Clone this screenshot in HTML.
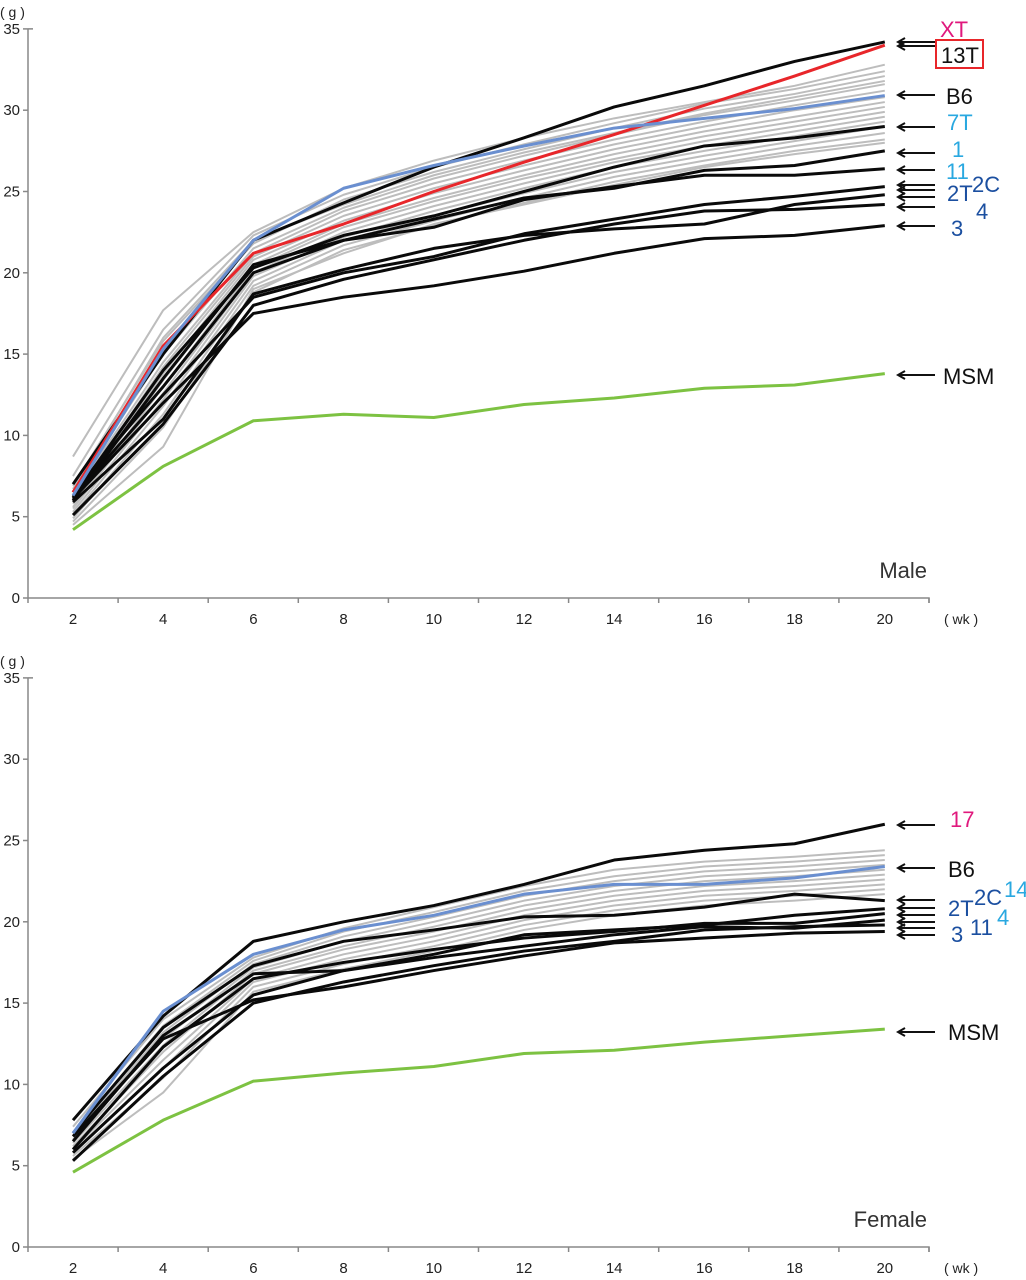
<!DOCTYPE html>
<html><head><meta charset="utf-8"><style>
html,body{margin:0;padding:0;background:#fff;}
svg{display:block;}
text{font-family:"Liberation Sans",sans-serif;}
.lab{font-family:"Liberation Sans Narrow","Liberation Sans",sans-serif;font-size:22px;}
</style></head><body>
<svg id="c" width="1026" height="1280" viewBox="0 0 1026 1280" xmlns="http://www.w3.org/2000/svg"></svg>
<script>
const weeks=[2,4,6,8,10,12,14,16,18,20];
const yTicks=[0,5,10,15,20,25,30,35];
// Male series
const maleGray=[
[8.7,17.7,22.5,25.2,26.9,28.3,29.5,30.5,31.5,32.8],
[7.5,16.5,22.3,24.8,26.5,27.9,29.2,30.4,31.3,32.4],
[6.9,15.8,21.8,24.5,26.2,27.6,28.9,30.1,31.0,32.1],
[6.5,15.0,21.5,24.0,25.8,27.2,28.5,29.7,30.6,31.6],
[6.3,14.5,21.2,23.8,25.5,26.9,28.2,29.3,30.3,31.2],
[6.1,14.2,21.0,23.5,25.2,26.6,27.9,29.0,30.0,30.8],
[6.0,13.8,20.8,23.2,24.9,26.3,27.6,28.7,29.6,30.5],
[5.8,13.4,20.5,23.0,24.6,26.0,27.3,28.4,29.3,30.2],
[5.6,13.0,20.3,22.8,24.4,25.8,27.0,28.1,29.0,29.9],
[5.5,12.6,20.0,22.5,24.1,25.5,26.8,27.8,28.7,29.6],
[5.3,12.2,19.8,22.2,23.8,25.2,26.5,27.5,28.4,29.3],
[5.1,11.8,19.5,22.0,23.5,24.9,26.2,27.2,28.1,29.0],
[4.9,11.3,19.2,21.7,23.2,24.6,25.9,26.9,27.8,28.6],
[4.7,10.5,18.8,21.4,22.9,24.3,25.6,26.6,27.5,28.2],
[4.5,9.3,19.0,21.2,23.0,24.2,25.4,26.5,27.3,28.0],
[6.7,16.0,22.0,24.2,26.0,27.4,28.6,29.8,30.8,31.8]];
const maleBlack=[
[7.0,15.0,22.0,24.3,26.5,28.3,30.2,31.5,33.0,34.2],
[6.2,14.0,20.3,22.3,23.5,25.0,26.5,27.8,28.3,29.0],
[6.0,13.5,20.5,22.0,23.3,24.6,25.2,26.3,26.6,27.5],
[6.5,13.0,20.0,22.0,22.8,24.5,25.3,26.0,26.0,26.4],
[6.2,12.5,18.5,20.0,21.0,22.4,23.3,24.2,24.7,25.3],
[5.9,11.0,18.7,20.2,21.5,22.3,22.7,23.0,24.2,24.8],
[5.1,10.7,18.0,19.6,20.8,22.0,23.0,23.8,23.9,24.2],
[6.1,12.0,17.5,18.5,19.2,20.1,21.2,22.1,22.3,22.9]];
const maleRed=[6.5,15.5,21.2,23.0,25.0,26.8,28.5,30.3,32.1,34.0];
const maleBlue=[6.3,15.3,22.0,25.2,26.6,27.8,28.9,29.5,30.1,30.9];
const maleGreen=[4.2,8.1,10.9,11.3,11.1,11.9,12.3,12.9,13.1,13.8];
// Female series
const femGray=[
[7.4,14.0,17.8,19.6,20.9,22.2,23.2,23.7,24.0,24.4],
[7.0,13.6,17.6,19.4,20.6,21.9,22.8,23.4,23.7,24.1],
[6.8,13.2,17.4,19.1,20.3,21.6,22.5,23.1,23.4,23.8],
[6.6,12.8,17.2,18.8,20.0,21.3,22.2,22.8,23.1,23.5],
[6.4,12.4,17.0,18.5,19.7,21.0,21.9,22.5,22.8,23.2],
[6.2,12.0,16.8,18.3,19.4,20.7,21.6,22.2,22.5,22.9],
[6.0,11.5,16.5,18.0,19.1,20.4,21.3,21.9,22.2,22.6],
[5.8,11.0,16.3,17.7,18.8,20.1,21.0,21.6,21.9,22.3],
[5.6,10.4,16.0,17.4,18.5,19.8,20.7,21.3,21.6,22.0],
[5.4,9.5,15.7,17.1,18.2,19.5,20.4,21.0,21.3,21.7]];
const femBlack=[
[7.8,14.2,18.8,20.0,21.0,22.3,23.8,24.4,24.8,26.0],
[7.0,13.5,17.3,18.8,19.5,20.3,20.4,20.9,21.7,21.3],
[6.5,13.0,16.8,17.0,18.0,19.2,19.5,19.8,20.4,20.8],
[6.0,12.3,16.5,17.5,18.3,19.0,19.4,19.9,19.9,20.5],
[5.8,11.0,15.5,17.0,17.8,18.5,19.2,19.7,19.6,20.1],
[5.3,10.5,15.0,16.3,17.3,18.2,18.8,19.5,19.7,19.8],
[6.8,12.8,15.2,16.0,17.0,17.9,18.7,19.0,19.3,19.4]];
const femBlue=[7.0,14.5,18.0,19.5,20.4,21.7,22.3,22.3,22.7,23.4];
const femGreen=[4.6,7.8,10.2,10.7,11.1,11.9,12.1,12.6,13.0,13.4];

const NS='http://www.w3.org/2000/svg';
const svg=document.getElementById('c');
function mk(tag,attrs,parent,txt){const e=document.createElementNS(NS,tag);for(const k in attrs)e.setAttribute(k,attrs[k]);if(txt!==undefined)e.textContent=txt;(parent||svg).appendChild(e);return e;}

function panel(y0,name,title,grays,blacks,red,blue,green,labels){
  const g=mk('g',{});
  
  
  const xs=w=>73+(w-2)*45.1;
  const ys=v=>y0-v*16.26;
  const ax=mk('path',{d:`M28 ${ys(35)} H33 M28 ${ys(35)} V${y0} H929 V${y0+5}`,stroke:'#888',fill:'none','stroke-width':1.5},g);
  
  
  for(const t of yTicks){
    mk('line',{x1:23,x2:28,y1:ys(t),y2:ys(t),stroke:'#888','stroke-width':1.5},g);
    const tl=mk('text',{x:20,y:ys(t)+5,'text-anchor':'end','font-size':15,fill:'#222'},g,String(t));
    
    
  }
  for(let k=0;k<=weeks.length;k++){
    mk('line',{x1:28+k*90.1,x2:28+k*90.1,y1:y0,y2:y0+5,stroke:'#888','stroke-width':1.5},g);
  }
  for(const w of weeks){
    const tl=mk('text',{x:xs(w),y:y0+26,'text-anchor':'middle','font-size':15,fill:'#222'},g,String(w));
    
    
  }
  const u=mk('text',{x:0,y:ys(35)-12,'font-size':14,fill:'#222'},g,'( g )');
  
  
  const wk=mk('text',{x:944,y:y0+26,'font-size':14,fill:'#222'},g,'( wk )');
  
  
  const tt=mk('text',{x:927,y:y0-20,'text-anchor':'end','font-size':22,fill:'#333'},g,title);
  
  
  function line(vals,col,wd,nm){
    const p=mk('polyline',{points:vals.map((v,i)=>xs(weeks[i])+','+ys(v)).join(' '),fill:'none',stroke:col,'stroke-width':wd,'stroke-linejoin':'round'},g);
    
    
  }
  grays.forEach(s=>line(s,'#bdbdbd',2,'strain-line-gray'));
  blacks.forEach(s=>line(s,'#0a0a0a',3,'strain-line-black'));
  if(red)line(red,'#e8262a',3,'strain-line-13t');
  line(blue,'#6a8fd0',3,'strain-line-b6');
  line(green,'#7dc242',3,'strain-line-msm');
  for(const a of labels.arrows){
    const ar=mk('path',{d:`M935 ${a} H899 M905 ${a-4} L898 ${a} L905 ${a+4}`,stroke:'#111','stroke-width':2,fill:'none'},g);
    
    
  }
  for(const l of labels.texts){
    const t=mk('text',{x:l[1],y:l[2],fill:l[3],class:'lab'},g,l[0]);
    
    
  }
}
panel(598,'male-chart','Male',maleGray,maleBlack,maleRed,maleBlue,maleGreen,{
  arrows:[42,46,95,127,153,170,185,190,197,207,226,375],
  texts:[['XT',940,37,'#e0197d'],['13T',941,63,'#111'],['B6',946,104,'#111'],['7T',947,130,'#29a8e0'],['1',952,157,'#29a8e0'],
    ['11',946,179,'#29a8e0'],['2T',947,201,'#1b4fa0'],['2C',972,192,'#1b4fa0'],['4',976,219,'#1b4fa0'],['3',951,236,'#1b4fa0'],['MSM',943,384,'#111']]
});
const box=mk('rect',{x:936,y:40,width:47,height:28,fill:'none',stroke:'#e8262a','stroke-width':2});


panel(1247,'female-chart','Female',femGray,femBlack,null,femBlue,femGreen,{
  arrows:[825,868,900,908,915,922,928,935,1032],
  texts:[['17',950,827,'#e0197d'],['B6',948,877,'#111'],['2T',948,916,'#1b4fa0'],['2C',974,905,'#1b4fa0'],['14',1004,897,'#29a8e0'],
    ['4',997,925,'#29a8e0'],['11',970,935,'#1b4fa0'],['3',951,942,'#1b4fa0'],['MSM',948,1040,'#111']]
});
</script>
</body></html>
